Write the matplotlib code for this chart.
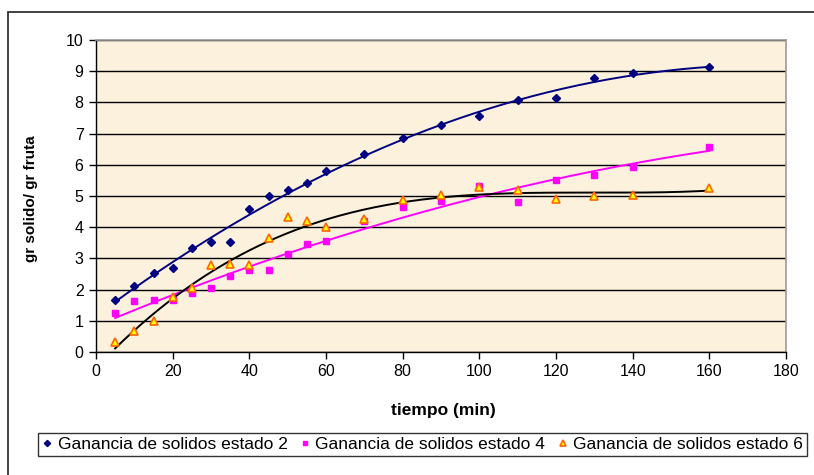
import numpy as np
import matplotlib
matplotlib.use("Agg")
import matplotlib.pyplot as plt
from matplotlib.patches import Rectangle

plt.rcParams['font.family'] = ['Liberation Sans', 'DejaVu Sans']

# Data
t2 = [5, 10, 15, 20, 25, 30, 35, 40, 45, 50, 55, 60, 70, 80, 90, 100, 110, 120, 130, 140, 160]
y2 = [1.67, 2.12, 2.54, 2.70, 3.32, 3.53, 3.53, 4.58, 5.00, 5.19, 5.42, 5.80, 6.35, 6.87, 7.28,
      7.55, 8.09, 8.13, 8.77, 8.94, 9.15]
t4 = [5, 10, 15, 20, 25, 30, 35, 40, 45, 50, 55, 60, 70, 80, 90, 100, 110, 120, 130, 140, 160]
y4 = [1.26, 1.62, 1.67, 1.66, 1.89, 2.04, 2.43, 2.63, 2.63, 3.15, 3.45, 3.55, 4.19, 4.66, 4.83,
      5.32, 4.80, 5.51, 5.66, 5.92, 6.58]
t6 = [5, 10, 15, 20, 25, 30, 35, 40, 45, 50, 55, 60, 70, 80, 90, 100, 110, 120, 130, 140, 160]
y6 = [0.31, 0.68, 0.99, 1.76, 2.04, 2.79, 2.83, 2.79, 3.65, 4.32, 4.21, 4.02, 4.26, 4.88, 5.02,
      5.30, 5.19, 4.90, 5.01, 5.03, 5.27]
labels = ["Ganancia de solidos estado 2", "Ganancia de solidos estado 4", "Ganancia de solidos estado 6"]
xticks = list(range(0, 181, 20))
yticks = list(range(0, 11))

W, H = 814, 475
fig = plt.figure(figsize=(W / 100, H / 100), dpi=100)
fig.patch.set_facecolor('white')

ax = fig.add_axes([96 / W, (H - 352) / H, 690 / W, 312 / H])
ax.set_facecolor('#FBF1DC')

# trend lines (polynomial, Excel-like)
def trend(t, y, deg):
    c = np.polyfit(t, y, deg)
    xs = np.linspace(min(t), max(t), 200)
    return xs, np.polyval(c, xs)

xs, ys = trend(t2, y2, 2)
ax.plot(xs, ys, color='#000080', lw=1.4, zorder=3)
xs, ys = trend(t4, y4, 2)
ax.plot(xs, ys, color='#FF00FF', lw=1.4, zorder=3)
xs, ys = trend(t6, y6, 3)
ax.plot(xs, ys, color='black', lw=1.4, zorder=3)

ax.plot(t2, y2, linestyle='none', marker='D', ms=4.5, color='#000080', mec='#000080', label=labels[0], zorder=4)
ax.plot(t4, y4, linestyle='none', marker='s', ms=5, color='#FF00FF', mec='#FF00FF', label=labels[1], zorder=4)
ax.plot(t6, y6, linestyle='none', marker='^', ms=6, mfc='#FFFF00', mec='#FF6600', mew=1.2, label=labels[2], zorder=4)

ax.set_xlim(0, 180)
ax.set_ylim(0, 10)
ax.set_xticks(xticks)
ax.set_yticks(yticks)
ax.yaxis.grid(True, color='black', lw=1)
ax.set_axisbelow(True)
ax.tick_params(direction='out', length=5, width=1, labelsize=11.5, colors='black', pad=4)
for s in ['left', 'bottom']:
    ax.spines[s].set_color('black')
    ax.spines[s].set_linewidth(1)
for s in ['top', 'right']:
    ax.spines[s].set_color('#9A9A9A')
    ax.spines[s].set_linewidth(1.2)

ax.set_xlabel('tiempo (min)', fontsize=12.5, fontweight='bold')
ax.set_ylabel('gr solido/ gr fruta', fontsize=11, fontweight='bold')
ax.xaxis.set_label_coords((443 - 96) / 690, (352 - 410) / 312)
ax.yaxis.set_label_coords((31 - 96) / 690, 0.49)
ax.xaxis.label.set_va('center')
ax.yaxis.label.set_va('center')

handles, labs = ax.get_legend_handles_labels()
leg = fig.legend(handles, labs, loc='center', ncol=3, fontsize=12.5,
                 bbox_to_anchor=(422.5 / W, (H - 444.5) / H),
                 frameon=True, fancybox=False, edgecolor='black',
                 markerscale=0.7, handlelength=0.6, handletextpad=0.3, columnspacing=0.7,
                 borderaxespad=0, borderpad=0.25)
leg.get_frame().set_linewidth(1)

fig.patches.append(Rectangle((8 / W, -0.1), 1.0, (H - 12) / H + 0.1, transform=fig.transFigure,
                             fill=False, edgecolor='#333333', lw=1.3, figure=fig))

fig.savefig('out.png', dpi=100)
